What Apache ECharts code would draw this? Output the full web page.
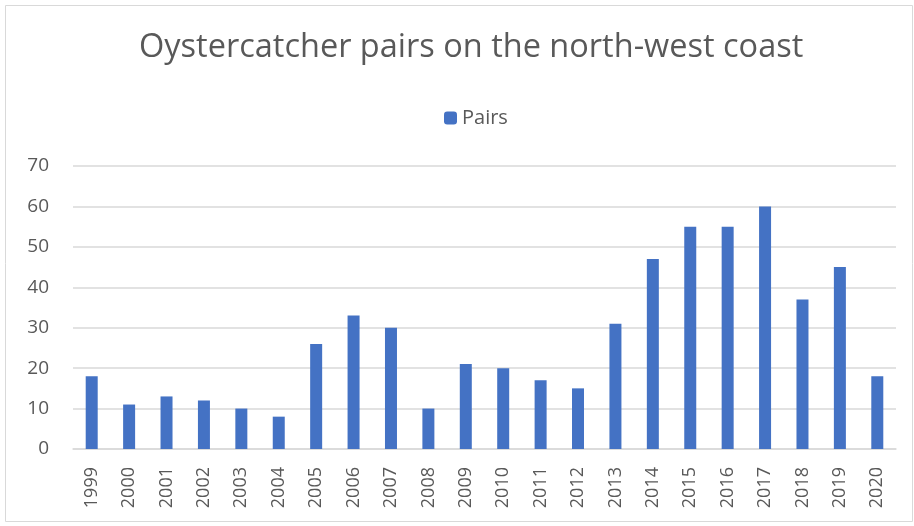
<!DOCTYPE html>
<html>
<head>
<meta charset="utf-8">
<script src="https://cdn.jsdelivr.net/npm/echarts@6/dist/echarts.min.js"></script>
<style>
html,body{margin:0;padding:0;background:#fff;}
#c{width:914px;height:526px;}
</style>
</head>
<body>
<div id="c"></div>
<script>
const years = ['1999','2000','2001','2002','2003','2004','2005','2006','2007','2008','2009','2010','2011','2012','2013','2014','2015','2016','2017','2018','2019','2020'];
const pairs = [18,11,13,12,10,8,26,33,30,10,21,20,17,15,31,47,55,55,60,37,45,18];
const titleText = 'Oystercatcher pairs on the north-west coast';
const seriesName = 'Pairs';

const chart = echarts.init(document.getElementById('c'));
const font = "'Open Sans', 'Noto Sans', sans-serif";
chart.setOption({
  animation: false,
  backgroundColor: '#fff',
  graphic: [{
    type: 'rect',
    shape: {x: 5.5, y: 5.5, width: 907, height: 516},
    style: {fill: 'none', stroke: '#d9d9d9', lineWidth: 1}
  }],
  title: {
    text: titleText,
    left: 134,
    top: 26,
    textStyle: {fontFamily: font, fontSize: 32.5, fontWeight: 'normal', color: '#595959'}
  },
  legend: {
    data: [seriesName],
    top: 103,
    left: 439,
    itemWidth: 13,
    itemHeight: 13,
    itemGap: 6,
    textStyle: {fontFamily: font, fontSize: 20, color: '#595959'}
  },
  grid: {left: 73, right: 18, top: 166, bottom: 77, containLabel: false},
  xAxis: {
    type: 'category',
    data: years,
    axisLine: {lineStyle: {color: '#d9d9d9', width: 1.5}},
    axisTick: {show: false},
    axisLabel: {rotate: 90, margin: 18, fontFamily: font, fontSize: 18, color: '#595959'}
  },
  yAxis: {
    type: 'value',
    min: 0, max: 70, interval: 10,
    axisLine: {show: false},
    axisTick: {show: false},
    splitLine: {lineStyle: {color: '#d9d9d9', width: 1.5}},
    axisLabel: {margin: 24, fontFamily: font, fontSize: 19, color: '#595959'}
  },
  series: [{
    name: seriesName,
    type: 'bar',
    data: pairs,
    barWidth: 12,
    itemStyle: {color: '#4472C4'}
  }]
});
</script>
</body>
</html>
